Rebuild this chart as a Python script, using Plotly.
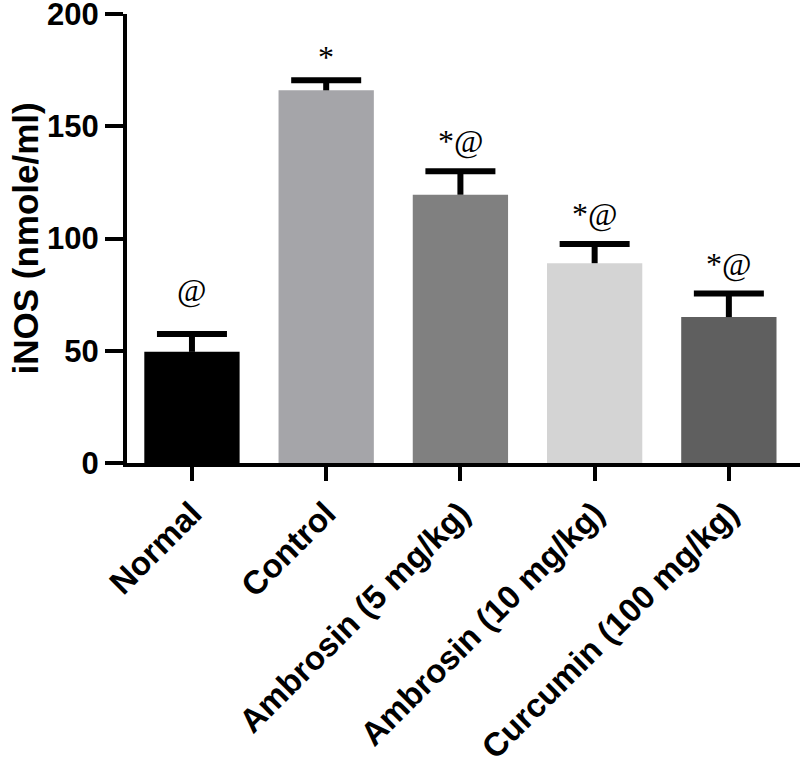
import plotly.graph_objects as go

categories = ["Normal", "Control", "Ambrosin (5 mg/kg)", "Ambrosin (10 mg/kg)", "Curcumin (100 mg/kg)"]
values = [49.5, 166, 119.5, 89, 65]
errors = [8, 4.5, 10.5, 8.5, 10.5]
colors = ["#000000", "#a5a5a9", "#808080", "#d4d4d4", "#5f5f5f"]
marks = ["@", "*", "*@", "*@", "*@"]
yticks = [0, 50, 100, 150, 200]

FONT = "Arial, Liberation Sans, sans-serif"
SERIF = "Times New Roman, Liberation Serif, serif"

xs = list(range(len(categories)))
tops = [v + e for v, e in zip(values, errors)]
mark_shift = {"@": 24, "*": 3, "*@": 10}

fig = go.Figure()
fig.add_trace(go.Bar(
    x=xs,
    y=values,
    width=0.71,
    marker=dict(color=colors, line=dict(width=0)),
    error_y=dict(type="data", symmetric=False, array=errors,
                 arrayminus=[0] * len(errors),
                 color="black", thickness=6, width=0),
    showlegend=False,
))
# error bar caps (top only)
fig.add_trace(go.Scatter(
    x=xs, y=tops, mode="markers",
    marker=dict(symbol="line-ew", size=50, line=dict(width=6, color="black")),
    showlegend=False, hoverinfo="skip",
))

for i, (t, m) in enumerate(zip(tops, marks)):
    fig.add_annotation(x=i, y=t, text=m, showarrow=False,
                       yanchor="bottom", yshift=mark_shift[m],
                       font=dict(family=SERIF, size=32, color="black"))

fig.add_annotation(xref="paper", yref="paper", x=0, y=0.5, xanchor="center",
                   yanchor="middle", xshift=-102, textangle=-90,
                   showarrow=False,
                   text="<b>iNOS (nmole/ml)</b>",
                   font=dict(family=FONT, size=35, color="black"))

fig.update_layout(
    width=800, height=760,
    margin=dict(l=127, r=0, t=14, b=297),
    plot_bgcolor="white", paper_bgcolor="white",
)
fig.update_xaxes(
    range=[-0.484, 4.53],
    tickmode="array", tickvals=xs,
    ticktext=["<b>%s</b>" % c for c in categories],
    tickangle=-45,
    ticks="outside", ticklen=14, tickwidth=4, tickcolor="black",
    showline=True, linewidth=4, linecolor="black",
    showgrid=False, zeroline=False, automargin=False,
    tickfont=dict(family=FONT, size=33, color="black"),
)
fig.update_yaxes(
    range=[0, 200],
    tickvals=yticks,
    ticktext=["<b>%d</b>" % t for t in yticks],
    ticks="outside", ticklen=18, tickwidth=4, tickcolor="black",
    showline=True, linewidth=4, linecolor="black",
    showgrid=False, zeroline=False, automargin=False,
    ticklabeloverflow="allow",
    tickfont=dict(family=FONT, size=31, color="black"),
)

# remove the default 8px page margin so the figure fills the window exactly
fig.write_html("out.html", config={"displayModeBar": False},
               post_script="document.body.style.margin='0';")
